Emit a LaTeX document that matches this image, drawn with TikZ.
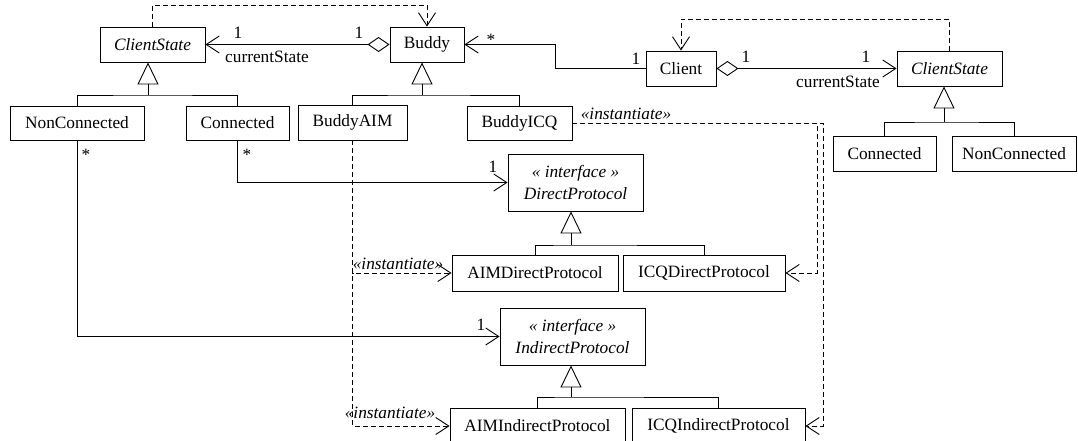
\documentclass[tikz,border=0pt]{standalone}
\usepackage{fontspec}
\setmainfont{Liberation Serif}
\usetikzlibrary{arrows.meta}
\begin{document}
\begin{tikzpicture}[x=1pt,y=-1pt,
  font=\fontsize{17.3}{21.5}\selectfont, line width=0.9pt,
  cls/.style={draw, inner sep=0pt, align=center},
  lbl/.style={inner sep=0pt},
  barb/.tip={Straight Barb[length=13pt,width=17pt]},
  nav/.style={-barb},
  agg/.style={{Diamond[open,length=22pt,width=15pt]}-barb},
  gen/.style={-{Triangle[open,length=22pt,width=21pt]}},
  dep/.style={dash pattern=on 5pt off 3pt, -barb}]
\useasboundingbox (0,0) rectangle (1078,441);

% classes
\node[cls, minimum width=105pt, minimum height=35pt] (csL) at (152.5,44.5) {\textit{ClientState}};
\node[cls, minimum width=74pt, minimum height=35pt] (buddy) at (427,44.5) {Buddy};
\node[cls, minimum width=70pt, minimum height=35pt] (client) at (681,68.5) {Client};
\node[cls, minimum width=105pt, minimum height=35pt] (csR) at (949.5,68.5) {\textit{ClientState}};
\node[cls, minimum width=103pt, minimum height=35pt] (connR) at (884.5,153.5) {Connected};
\node[cls, minimum width=124pt, minimum height=35pt] (nonconnR) at (1014,153.5) {NonConnected};
\node[cls, minimum width=134pt, minimum height=34pt] (nonconnL) at (77,123) {NonConnected};
\node[cls, minimum width=103pt, minimum height=34pt] (connL) at (237.5,123) {Connected};
\node[cls, minimum width=109pt, minimum height=35pt] (buddyAIM) at (352.5,122.5) {BuddyAIM};
\node[cls, minimum width=105pt, minimum height=34pt] (buddyICQ) at (519.5,123) {BuddyICQ};
\node[cls, minimum width=135pt, minimum height=57pt] (direct) at (575.5,182.5) {\textit{« interface »}\\\textit{DirectProtocol}};
\node[cls, minimum width=166pt, minimum height=36pt] (aimDirect) at (535,273) {AIMDirectProtocol};
\node[cls, minimum width=162pt, minimum height=36pt] (icqDirect) at (704,273) {ICQDirectProtocol};
\node[cls, minimum width=145pt, minimum height=57pt] (indirect) at (572.5,336.5) {\textit{« interface »}\\\textit{IndirectProtocol}};
\node[cls, minimum width=175pt, minimum height=36pt] (aimIndirect) at (537.5,426) {AIMIndirectProtocol};
\node[cls, minimum width=173pt, minimum height=36pt] (icqIndirect) at (718.5,426) {ICQIndirectProtocol};

% generalizations
\coordinate (gL) at (148,95);
\draw (nonconnL.north) |- (gL) -| (connL.north);
\draw[gen] (gL) -- (gL |- csL.south);
\coordinate (gB) at (422,95);
\draw (buddyAIM.north) |- (gB) -| (buddyICQ.north);
\draw[gen] (gB) -- (gB |- buddy.south);
\coordinate (gR) at (944,122);
\draw (connR.north) |- (gR) -| (nonconnR.north);
\draw[gen] (gR) -- (gR |- csR.south);
\coordinate (gD) at (571,245);
\draw (aimDirect.north) |- (gD) -| (icqDirect.north);
\draw[gen] (gD) -- (gD |- direct.south);
\coordinate (gI) at (571,397);
\draw (aimIndirect.north) |- (gI) -| (icqIndirect.north);
\draw[gen] (gI) -- (gI |- indirect.south);

% associations
\draw[agg] (buddy.west) -- (csL.east);
\node[lbl] (l1) at (238,33) {1};
\node[lbl] (l2) at (359,33) {1};
\node[lbl] (l3) at (267,57) {currentState};

\draw[nav] (client.west) -- (555,68.5) |- (buddy.east);
\node[lbl] (l4) at (491,40) {*};
\node[lbl] (l5) at (636,59) {1};

\draw[agg] (client.east) -- (csR.west);
\node[lbl] (l6) at (746,57) {1};
\node[lbl] (l7) at (866,57) {1};
\node[lbl] (l8) at (838,82) {currentState};

\draw[nav] (connL.south) |- (direct.west);
\node[lbl] (l9) at (247,155) {*};
\node[lbl] (l10) at (493,167) {1};

\draw[nav] (nonconnL.south) |- (indirect.west);
\node[lbl] (l11) at (86,155) {*};
\node[lbl] (l12) at (481,325) {1};

% dependencies
\draw[dep] (csL.north) -- (csL.north |- 0,5) -| (buddy.north);
\draw[dep] (csR.north) -- (csR.north |- 0,19) -| (client.north);

\draw[dep] (buddyAIM.south) |- (aimDirect.west);
\draw[dep] (buddyAIM.south) |- (aimIndirect.west);
\draw[dep] (buddyICQ.east) -| ([xshift=32pt]icqDirect.east) -- (icqDirect.east);
\draw[dep] (buddyICQ.east) -| ([xshift=18pt]icqIndirect.east) -- (icqIndirect.east);
\node[lbl] (i1) at (626,114) {\textit{«instantiate»}};
\node[lbl] (i2) at (398,264) {\textit{«instantiate»}};
\node[lbl] (i3) at (390,413) {\textit{«instantiate»}};
\end{tikzpicture}
\end{document}
